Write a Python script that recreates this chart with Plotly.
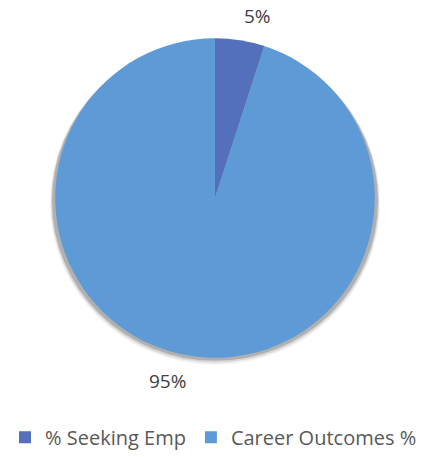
import math
import plotly.graph_objects as go

categories = ["% Seeking Emp", "Career Outcomes %"]
values = [5, 95]
colors = ["#5470BC", "#5E9BD6"]

W, H = 427, 457
cx, cy, R = 215, 202, 163  # pie centre and radius in pixels

fig = go.Figure(go.Pie(
    labels=categories,
    values=values,
    sort=False,
    direction="clockwise",
    rotation=0,
    marker=dict(colors=colors, line=dict(width=0)),
    textinfo="none",
    domain=dict(x=[(cx - R) / W, (cx + R) / W], y=[1 - (cy + R) / H, 1 - (cy - R) / H]),
    hoverinfo="label+percent",
))

# soft drop shadow below the pie
for off, grow, col in [(5, 2, "rgba(0,0,0,0.06)"), (4, 1, "rgba(0,0,0,0.10)"), (3, 0, "rgba(0,0,0,0.18)")]:
    fig.add_shape(
        type="circle", xref="paper", yref="paper", layer="below",
        x0=(cx - R - grow) / W, x1=(cx + R + grow) / W,
        y0=1 - (cy + R + off + grow) / H, y1=1 - (cy - R + off - grow) / H,
        fillcolor=col, line=dict(width=0),
    )

# data labels placed outside each slice (outside-end style)
total = sum(values)
start = 0.0
label_r = R + 10
for v in values:
    mid = (start + v / 2) / total * 2 * math.pi
    s, c = math.sin(mid), math.cos(mid)
    lx = cx + label_r * s
    ly = cy - label_r * c
    fig.add_annotation(
        x=lx / W, y=1 - ly / H, xref="paper", yref="paper",
        xanchor="left" if s >= 0 else "right",
        yanchor="bottom" if c >= 0 else "top",
        text=f"{round(v / total * 100)}%", showarrow=False,
        font=dict(family="Open Sans, sans-serif", size=19, color="#404040"),
    )
    start += v

fig.update_layout(
    width=W, height=H,
    margin=dict(l=0, r=0, t=0, b=0),
    paper_bgcolor="white",
    plot_bgcolor="white",
    showlegend=True,
    legend=dict(
        orientation="h",
        x=0.5, xanchor="center",
        y=1 - 446 / H, yanchor="middle",
        font=dict(family="Open Sans, sans-serif", size=20, color="#595959"),
        traceorder="normal",
    ),
)

fig.write_html("out.html", config={"displayModeBar": False},
               post_script="document.body.style.margin='0';")
